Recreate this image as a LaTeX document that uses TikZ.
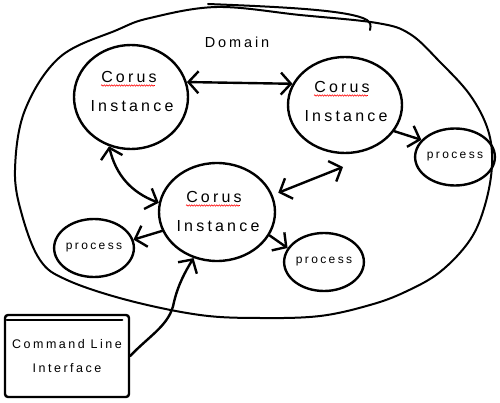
\documentclass[tikz,border=0pt]{standalone}
\usepackage{fontspec}
\setmainfont{Liberation Sans}[LetterSpace=20]
\usetikzlibrary{shapes.geometric,arrows.meta,decorations.pathmorphing,calc}
\tikzset{
  ink/.style={line width=2.4pt, line cap=round, line join=round},
  inst/.style={ink, draw, ellipse, inner sep=0pt},
  proc/.style={ink, draw, ellipse, inner sep=0pt, minimum width=75pt, minimum height=57pt, font=\fontsize{12}{14}\selectfont},
  lbl/.style={inner sep=0pt, anchor=base, font=\fontsize{16}{19}\selectfont},
  arr/.style={ink},
  squig/.style={red, line width=0.6pt, decorate, decoration={snake, amplitude=0.7pt, segment length=2.5pt}},
  >={Straight Barb[length=10pt,width=22pt]}
}
\begin{document}
\begin{tikzpicture}[x=1pt,y=-1pt]
\useasboundingbox (0,0) rectangle (500,403);
% domain outline
\draw[ink, line width=2pt] plot[smooth cycle, tension=0.6] coordinates {
 (217,7) (300,15) (377,23) (410,34) (440,62) (470,95) (488,130) (492,165)
 (485,205) (470,240) (440,272) (405,292) (370,305) (320,316) (260,318)
 (200,315) (127,300) (67,280) (40,260) (22,215) (15,170) (25,110) (60,57)
 (117,30) (150,18)};
\draw[ink, line width=2pt] (208,4) .. controls (283,7) and (350,10) .. (367,20) .. controls (371,24) .. (370,30);
\node[inner sep=0pt, anchor=base, font=\fontsize{14.5}{16}\selectfont] (dom) at (237,48) {Domain};

% instances
\node[inst, minimum width=114pt, minimum height=104pt] (i1) at (131,97) {};
\node[inst, minimum width=114pt, minimum height=96pt] (i2) at (345,105) {};
\node[inst, minimum width=116pt, minimum height=98pt] (i3) at (217,212) {};
\node[lbl] (c1) at (129,83) {Corus};
\node[lbl] (n1) at (132,112) {Instance};
\node[lbl] (c2) at (342,93) {Corus};
\node[lbl] (n2) at (346,122) {Instance};
\node[lbl] (c3) at (214,203) {Corus};
\node[lbl] (n3) at (218,232) {Instance};
\foreach \c in {c1,c2,c3}
  \draw[squig] ($(\c.base west)+(0,2.5)$) -- ($(\c.base east)+(-2,2.5)$);

% processes
\node[proc, minimum width=76pt, minimum height=57pt] (pR) at (455,157) {process};
\node[proc, minimum width=74pt, minimum height=58pt] (pL) at (94,248) {process};
\node[proc, minimum width=74pt, minimum height=58pt] (pB) at (324,262) {process};

% command line interface
\node[ink, draw, rounded corners=3pt, minimum width=124pt, minimum height=82pt, align=center,
      font=\fontsize{12.5}{24}\selectfont] (cli) at (67,356) {Command Line\\Interface};
\draw[ink] ($(cli.north west)+(3,6)$) -- ($(cli.north east)+(-8,6)$);

% connectors
\coordinate (a23) at ($(i2.center)+(-2,62)$);
\coordinate (cm) at (174,302);
\draw[arr,<->] (i1.15) -- (i2.158);
\draw[arr,<->] (i1.246) to[bend right=28] (i3.171);
\draw[arr,<->,shorten <=6pt] (i3.17) -- (a23);
\draw[arr,->] (i3.199) -- (pL.12);
\draw[arr,->] (i3.336) -- (pB.159);
\draw[arr,->] (i2.332) -- (pR.153);
\draw[arr,->] (cli.east) .. controls (150,335) and (170,325) .. (cm) .. controls (178,285) and (185,272) .. (i3.243);
\end{tikzpicture}
\end{document}
